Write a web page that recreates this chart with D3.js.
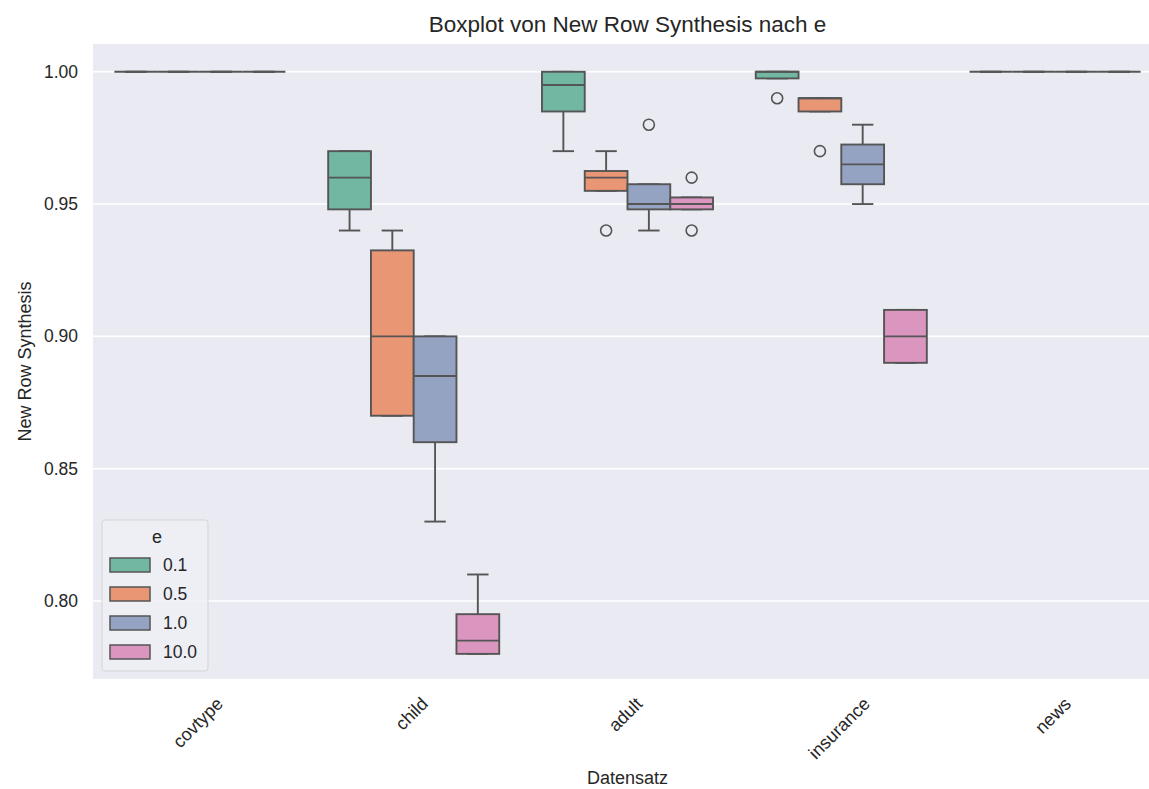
<!DOCTYPE html>
<html>
<head>
<meta charset="utf-8">
<script src="https://cdn.jsdelivr.net/npm/d3@7"></script>
<style>
  html, body { margin: 0; padding: 0; background: #ffffff; overflow: hidden; }
  svg { display: block; font-family: "Liberation Sans", Arial, sans-serif; }
</style>
</head>
<body>
<svg id="chart" width="1149" height="789"></svg>
<script>
// ---- Data ----
const categories = ["covtype", "child", "adult", "insurance", "news"];
const hues = ["0.1", "0.5", "1.0", "10.0"];
const colors = ["#71b7a1", "#e99675", "#95a3c3", "#db96c0"];

// per category, per hue
const whiskerLow = [
  [1.0, 1.0, 1.0, 1.0],
  [0.940, 0.870, 0.830, 0.780],
  [0.970, 0.955, 0.940, 0.948],
  [0.9975, 0.985, 0.950, 0.890],
  [1.0, 1.0, 1.0, 1.0]
];
const q1 = [
  [1.0, 1.0, 1.0, 1.0],
  [0.948, 0.870, 0.860, 0.780],
  [0.985, 0.955, 0.948, 0.948],
  [0.9975, 0.985, 0.9575, 0.890],
  [1.0, 1.0, 1.0, 1.0]
];
const median = [
  [1.0, 1.0, 1.0, 1.0],
  [0.960, 0.900, 0.885, 0.785],
  [0.995, 0.960, 0.950, 0.950],
  [1.0, 0.990, 0.965, 0.900],
  [1.0, 1.0, 1.0, 1.0]
];
const q3 = [
  [1.0, 1.0, 1.0, 1.0],
  [0.970, 0.9325, 0.900, 0.795],
  [1.000, 0.9625, 0.9575, 0.9525],
  [1.000, 0.990, 0.9725, 0.910],
  [1.0, 1.0, 1.0, 1.0]
];
const whiskerHigh = [
  [1.0, 1.0, 1.0, 1.0],
  [0.970, 0.940, 0.900, 0.810],
  [1.000, 0.970, 0.9575, 0.9525],
  [1.000, 0.990, 0.980, 0.910],
  [1.0, 1.0, 1.0, 1.0]
];
const outliers = [
  [[], [], [], []],
  [[], [], [], []],
  [[], [0.94], [0.98], [0.96, 0.94]],
  [[0.99], [0.97], [], []],
  [[], [], [], []]
];
const yTicks = [0.80, 0.85, 0.90, 0.95, 1.00];

const title = "Boxplot von New Row Synthesis nach e";
const xLabel = "Datensatz";
const yLabel = "New Row Synthesis";
const legendTitle = "e";

// ---- Layout ----
const plot = { left: 93, right: 1162, top: 44, bottom: 679 };
const lineColor = "#555555";
const lw = 1.9;

const svg = d3.select("#chart");

const x = d3.scaleBand().domain(categories).range([plot.left, plot.right]).padding(0);
const y = d3.scaleLinear().domain([0.7705, 1.0105]).range([plot.bottom, plot.top]);
const hueScale = d3.scaleBand().domain(hues).range([-0.4 * x.bandwidth(), 0.4 * x.bandwidth()]).padding(0);

// background
svg.append("rect")
  .attr("x", plot.left).attr("y", plot.top)
  .attr("width", plot.right - plot.left).attr("height", plot.bottom - plot.top)
  .attr("fill", "#eaeaf2");

// grid
svg.append("g").selectAll("line").data(yTicks).join("line")
  .attr("x1", plot.left).attr("x2", plot.right)
  .attr("y1", d => y(d)).attr("y2", d => y(d))
  .attr("stroke", "#ffffff").attr("stroke-width", 1.5);

// y axis (no domain line / ticks)
const yAxis = svg.append("g")
  .attr("transform", `translate(${plot.left},0)`)
  .call(d3.axisLeft(y).tickValues(yTicks).tickFormat(d3.format(".2f")).tickSize(0).tickPadding(15));
yAxis.select(".domain").remove();
yAxis.selectAll("text").attr("font-size", 17.5).attr("fill", "#262626")
  .attr("font-family", "Liberation Sans, Arial, sans-serif");

// x axis labels (rotated 45, centered at tick)
const xAxis = svg.append("g")
  .attr("transform", `translate(0,${plot.bottom})`)
  .call(d3.axisBottom(x).tickSize(0).tickFormat(d => d));
xAxis.select(".domain").remove();
xAxis.selectAll(".tick text").each(function(d) {
  const t = d3.select(this);
  t.attr("font-size", 18).attr("fill", "#262626")
   .attr("font-family", "Liberation Sans, Arial, sans-serif")
   .attr("y", 0).attr("dy", null)
   .attr("text-anchor", "middle").attr("dominant-baseline", "central");
  const L = this.getComputedTextLength();
  const h = 18 * 0.75;
  const half = (L + h) * Math.SQRT1_2 / 2;
  t.attr("transform", `translate(-2,${17 + half}) rotate(-45)`);
});

// boxes
const boxW = hueScale.bandwidth();
const g = svg.append("g");
categories.forEach((cat, ci) => {
  hues.forEach((hu, hi) => {
    const x0 = x(cat) + x.bandwidth() / 2 + hueScale(hu);
    const cx = x0 + boxW / 2;
    const capHalf = boxW / 4;
    const gg = g.append("g");
    // whiskers
    gg.append("line").attr("x1", cx).attr("x2", cx)
      .attr("y1", y(q3[ci][hi])).attr("y2", y(whiskerHigh[ci][hi]))
      .attr("stroke", lineColor).attr("stroke-width", lw);
    gg.append("line").attr("x1", cx).attr("x2", cx)
      .attr("y1", y(q1[ci][hi])).attr("y2", y(whiskerLow[ci][hi]))
      .attr("stroke", lineColor).attr("stroke-width", lw);
    // caps
    [whiskerHigh[ci][hi], whiskerLow[ci][hi]].forEach(v => {
      gg.append("line").attr("x1", cx - capHalf).attr("x2", cx + capHalf)
        .attr("y1", y(v)).attr("y2", y(v))
        .attr("stroke", lineColor).attr("stroke-width", lw);
    });
    // box
    gg.append("rect")
      .attr("x", x0).attr("width", boxW)
      .attr("y", y(q3[ci][hi])).attr("height", Math.max(0, y(q1[ci][hi]) - y(q3[ci][hi])))
      .attr("fill", colors[hi]).attr("stroke", lineColor).attr("stroke-width", lw);
    // median
    gg.append("line").attr("x1", x0).attr("x2", x0 + boxW)
      .attr("y1", y(median[ci][hi])).attr("y2", y(median[ci][hi]))
      .attr("stroke", lineColor).attr("stroke-width", lw);
    // outliers
    gg.selectAll("circle").data(outliers[ci][hi]).join("circle")
      .attr("cx", cx).attr("cy", d => y(d)).attr("r", 5.5)
      .attr("fill", "none").attr("stroke", lineColor).attr("stroke-width", 1.6);
  });
});

// title
svg.append("text")
  .attr("x", (plot.left + plot.right) / 2).attr("y", 32)
  .attr("text-anchor", "middle").attr("font-size", 22.5).attr("fill", "#262626")
  .text(title);

// axis labels
svg.append("text")
  .attr("x", (plot.left + plot.right) / 2).attr("y", 784)
  .attr("text-anchor", "middle").attr("font-size", 18).attr("fill", "#262626")
  .text(xLabel);
svg.append("text")
  .attr("transform", `translate(31,${(plot.top + plot.bottom) / 2}) rotate(-90)`)
  .attr("text-anchor", "middle").attr("font-size", 18).attr("fill", "#262626")
  .text(yLabel);

// legend
const leg = svg.append("g");
leg.append("rect")
  .attr("x", 102).attr("y", 520).attr("width", 106).attr("height", 151)
  .attr("rx", 3).attr("fill", "#eeeef5").attr("fill-opacity", 0.9)
  .attr("stroke", "#d5d5d5").attr("stroke-width", 1);
leg.append("text")
  .attr("x", 157).attr("y", 543)
  .attr("text-anchor", "middle").attr("font-size", 18).attr("fill", "#262626")
  .text(legendTitle);
const legY = d3.scalePoint().domain(hues).range([565, 652]);
hues.forEach((hu, hi) => {
  leg.append("rect")
    .attr("x", 110).attr("y", legY(hu) - 7).attr("width", 40).attr("height", 14)
    .attr("fill", colors[hi]).attr("stroke", lineColor).attr("stroke-width", 1.5);
  leg.append("text")
    .attr("x", 163).attr("y", legY(hu)).attr("dy", "0.35em")
    .attr("font-size", 17.5).attr("fill", "#262626")
    .text(hu);
});
</script>
</body>
</html>
